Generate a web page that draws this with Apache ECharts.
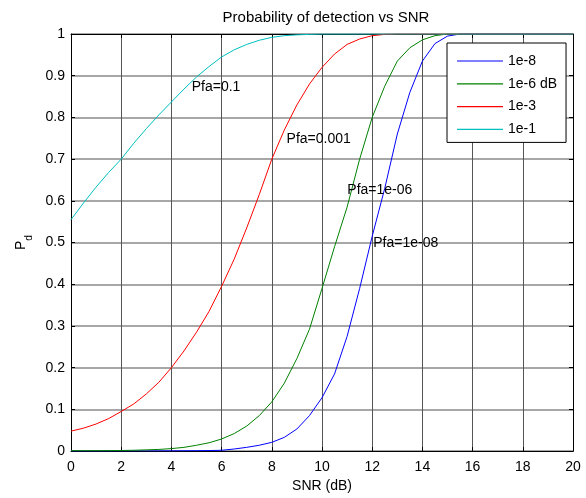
<!DOCTYPE html>
<html>
<head>
<meta charset="utf-8">
<script src="https://cdn.jsdelivr.net/npm/echarts@6/dist/echarts.min.js"></script>
<style>html,body{margin:0;padding:0;background:#fff;}#c{width:586px;height:498px;}</style>
</head>
<body>
<div id="c"></div>
<script>
var titleText = 'Probability of detection vs SNR';
var xName = 'SNR (dB)';
var seriesNames = ['1e-8', '1e-6 dB', '1e-3', '1e-1'];
var xTicks = [0, 2, 4, 6, 8, 10, 12, 14, 16, 18, 20];
var yTicks = [0, 0.1, 0.2, 0.3, 0.4, 0.5, 0.6, 0.7, 0.8, 0.9, 1];
var snr = [0, 0.5, 1, 1.5, 2, 2.5, 3, 3.5, 4, 4.5, 5, 5.5, 6, 6.5, 7, 7.5, 8, 8.5, 9, 9.5,
           10, 10.5, 11, 11.5, 12, 12.5, 13, 13.5, 14, 14.5, 15, 15.5, 16, 16.5, 17, 17.5, 18, 18.5, 19, 19.5, 20];
var pd1e8 = [0.0002, 0.0002, 0.0002, 0.0003, 0.0003, 0.0003, 0.0004, 0.0005, 0.0006, 0.0008,
             0.001, 0.0013, 0.002, 0.005, 0.009, 0.014, 0.021, 0.033, 0.053, 0.085,
             0.128, 0.185, 0.275, 0.39, 0.515, 0.63, 0.76, 0.86, 0.935, 0.977,
             0.995, 1, 1, 1, 1, 1, 1, 1, 1, 1, 1];
var pd1e6 = [0.001, 0.001, 0.001, 0.0012, 0.0015, 0.002, 0.003, 0.004, 0.006, 0.009,
             0.014, 0.02, 0.029, 0.042, 0.06, 0.085, 0.118, 0.163, 0.222, 0.292,
             0.39, 0.49, 0.585, 0.70, 0.80, 0.875, 0.935, 0.967, 0.986, 0.996,
             1, 1, 1, 1, 1, 1, 1, 1, 1, 1, 1];
var pd1e3 = [0.048, 0.055, 0.065, 0.078, 0.095, 0.113, 0.137, 0.165, 0.200, 0.24,
             0.285, 0.335, 0.395, 0.46, 0.535, 0.615, 0.70, 0.77, 0.83, 0.88,
             0.92, 0.952, 0.975, 0.988, 0.996, 0.999, 1, 1, 1, 1,
             1, 1, 1, 1, 1, 1, 1, 1, 1, 1, 1];
var pd1e1 = [0.555, 0.595, 0.633, 0.668, 0.70, 0.738, 0.773, 0.806, 0.837, 0.868,
             0.897, 0.922, 0.945, 0.962, 0.975, 0.985, 0.992, 0.996, 0.998, 0.999,
             1, 1, 1, 1, 1, 1, 1, 1, 1, 1,
             1, 1, 1, 1, 1, 1, 1, 1, 1, 1, 1];
var annText = ['Pfa=0.1', 'Pfa=0.001', 'Pfa=1e-06', 'Pfa=1e-08'];
var annX = [4.81, 8.59, 11.01, 12.04];
var annY = [0.873, 0.748, 0.625, 0.498];

var colors = ['#0000ff', '#008000', '#ff0000', '#00bfbf'];
var FONT = '"Liberation Sans", Arial, sans-serif';

function pairs(ys) { return snr.map(function (x, i) { return [x, ys[i]]; }); }
function fmt(v) { return String(v); }

var chart = echarts.init(document.getElementById('c'), null, { renderer: 'canvas' });
var allData = [pd1e8, pd1e6, pd1e3, pd1e1];
var series = seriesNames.map(function (n, i) {
  return {
    name: n, type: 'line', data: pairs(allData[i]), symbol: 'none', showSymbol: false,
    lineStyle: { color: colors[i], width: 1 }, itemStyle: { color: colors[i] },
    animation: false, z: 3
  };
});
series.push({
  type: 'scatter', name: 'ann', symbolSize: 0, silent: true, animation: false, z: 5,
  itemStyle: { opacity: 1 },
  data: annText.map(function (t, i) { return { name: t, value: [annX[i], annY[i]] }; }),
  label: { show: true, position: 'right', distance: 0, formatter: '{b}', color: '#000', opacity: 1, fontSize: 14, fontFamily: FONT }
});

var axisCommon = {
  min: 0,
  axisLine: { show: true, onZero: false, lineStyle: { color: '#000', width: 1 } },
  axisTick: { show: true, inside: true, length: 4, lineStyle: { color: '#000' } }
};

chart.setOption({
  backgroundColor: '#fff',
  animation: false,
  title: {
    text: titleText, left: 321, top: 5, textAlign: 'center',
    textStyle: { fontSize: 15, fontWeight: 'normal', color: '#000', fontFamily: FONT }
  },
  grid: { left: 71, right: 13, top: 34, bottom: 46, containLabel: false },
  legend: {
    data: seriesNames.map(function (n, i) {
      return { name: n, icon: 'path://M0,0H40V1H0Z', itemStyle: { color: colors[i], borderWidth: 0 } };
    }),
    orient: 'vertical', left: 447, top: 43,
    itemWidth: 46, itemHeight: 1.2, itemGap: 6.8,
    padding: [10, 9, 5, 10],
    backgroundColor: '#fff', borderColor: '#000', borderWidth: 1, borderRadius: 0,
    textStyle: { fontSize: 14, color: '#000', fontFamily: FONT, lineHeight: 16 },
    z: 10
  },
  xAxis: [
    Object.assign({}, axisCommon, {
      type: 'value', max: 20, interval: 2, position: 'bottom',
      name: xName, nameLocation: 'middle', nameGap: 20,
      nameTextStyle: { fontSize: 14, color: '#000', fontFamily: FONT },
      axisLabel: { fontSize: 14, color: '#000', fontFamily: FONT, margin: 9, formatter: fmt },
      splitLine: { show: true, lineStyle: { color: '#555', width: 1, type: 'solid' } }
    }),
    Object.assign({}, axisCommon, {
      type: 'value', max: 20, interval: 2, position: 'top',
      axisLabel: { show: false }, splitLine: { show: false }
    })
  ],
  yAxis: [
    Object.assign({}, axisCommon, {
      type: 'value', max: 1, interval: 0.1, position: 'left',
      name: '{p|P}{s|d}', nameLocation: 'middle', nameGap: 37, nameRotate: 90,
      nameTextStyle: {
        color: '#000', fontFamily: FONT,
        rich: {
          p: { fontSize: 14, fontFamily: FONT, color: '#000', lineHeight: 20, verticalAlign: 'top' },
          s: { fontSize: 10, fontFamily: FONT, color: '#000', lineHeight: 20, verticalAlign: 'bottom', padding: [8, 0, 0, 0] }
        }
      },
      axisLabel: { fontSize: 14, color: '#000', fontFamily: FONT, margin: 6, formatter: fmt },
      splitLine: { show: true, lineStyle: { color: '#8a8a8a', width: 1.5, type: 'solid' } }
    }),
    Object.assign({}, axisCommon, {
      type: 'value', max: 1, interval: 0.1, position: 'right',
      axisLabel: { show: false }, splitLine: { show: false }
    })
  ],
  series: series
});
</script>
</body>
</html>
